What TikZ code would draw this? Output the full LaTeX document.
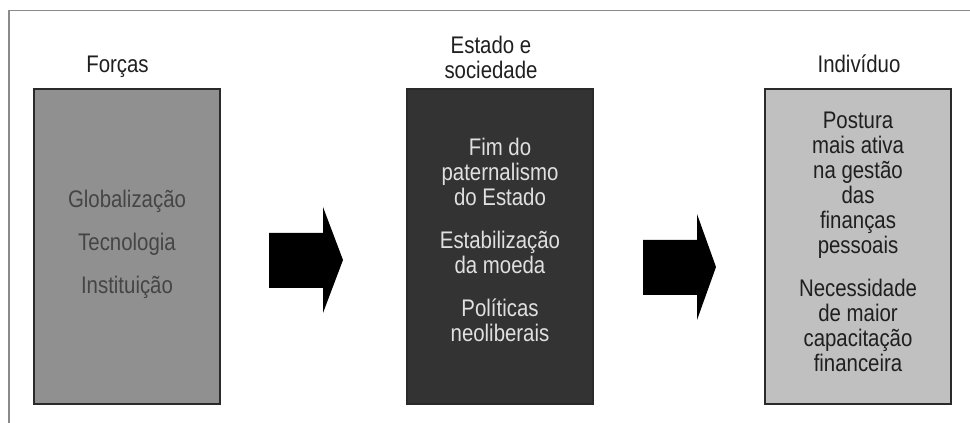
\documentclass[tikz,border=0pt]{standalone}
\usepackage{fontspec}
\setmainfont[FakeStretch=0.85]{Liberation Sans}
\usetikzlibrary{positioning}

\definecolor{frameline}{HTML}{8A8A8A}
\definecolor{boxline}{HTML}{2A2A2A}
\definecolor{forcasfill}{HTML}{909090}
\definecolor{estadofill}{HTML}{333333}
\definecolor{indivfill}{HTML}{C0C0C0}

\begin{document}
\begin{tikzpicture}[x=0.75pt,y=-0.75pt,
  panel/.style={draw=boxline,line width=1.5pt,minimum width=139.5pt,minimum height=236.25pt,inner sep=0pt},
  heading/.style={text=black!88,font=\fontsize{18}{18.75}\selectfont,align=center,inner sep=0pt},
  inside/.style={font=\fontsize{18}{18.75}\selectfont,align=center,inner sep=0pt},
  blockarrow/.style={fill=black}]
\useasboundingbox (0,0) rectangle (970,423);
% outer frame (open at right and bottom)
\draw[frameline,line width=1.2pt] (9,423) -- (9,10.5) -- (970,10.5);

% the three panels
\node[panel,fill=forcasfill] (forcas) at (127,246.5) {};
\node[panel,fill=estadofill] (estado) at (500,246.5) {};
\node[panel,fill=indivfill] (indiv) at (858,246.5) {};

% headings
\node[heading,anchor=base] (forcasT) at (117.5,72.5) {Forças};
\node[heading,anchor=south] (estadoT) at (491,79) {Estado e\\sociedade};
\node[heading,anchor=base] (indivT) at (859,72.5) {Indivíduo};

% panel texts
\node[inside,text=black!73] (forcasX) at (127,244) {Globalização\\[13.5pt]Tecnologia\\[13.5pt]Instituição};
\node[inside,text=black!12] (estadoX) at (500,240) {Fim do\\paternalismo\\do Estado\\[13.5pt]Estabilização\\da moeda\\[13.5pt]Políticas\\neoliberais};
\node[inside,text=black!88] (indivX) at (858,242) {Postura\\mais ativa\\na gestão\\das\\finanças\\pessoais\\[13.5pt]Necessidade\\de maior\\capacitação\\financeira};

% block arrows
\coordinate (arrA) at (269,233);
\coordinate (arrB) at (643,240);
\fill[blockarrow] (arrA) -- ++(54,0) -- ++(0,-26) -- ++(20,53) -- ++(-20,53) -- ++(0,-25) -- ++(-54,0) -- cycle;
\fill[blockarrow] (arrB) -- ++(54,0) -- ++(0,-26) -- ++(19,53) -- ++(-19,53) -- ++(0,-25) -- ++(-54,0) -- cycle;
\end{tikzpicture}
\end{document}
